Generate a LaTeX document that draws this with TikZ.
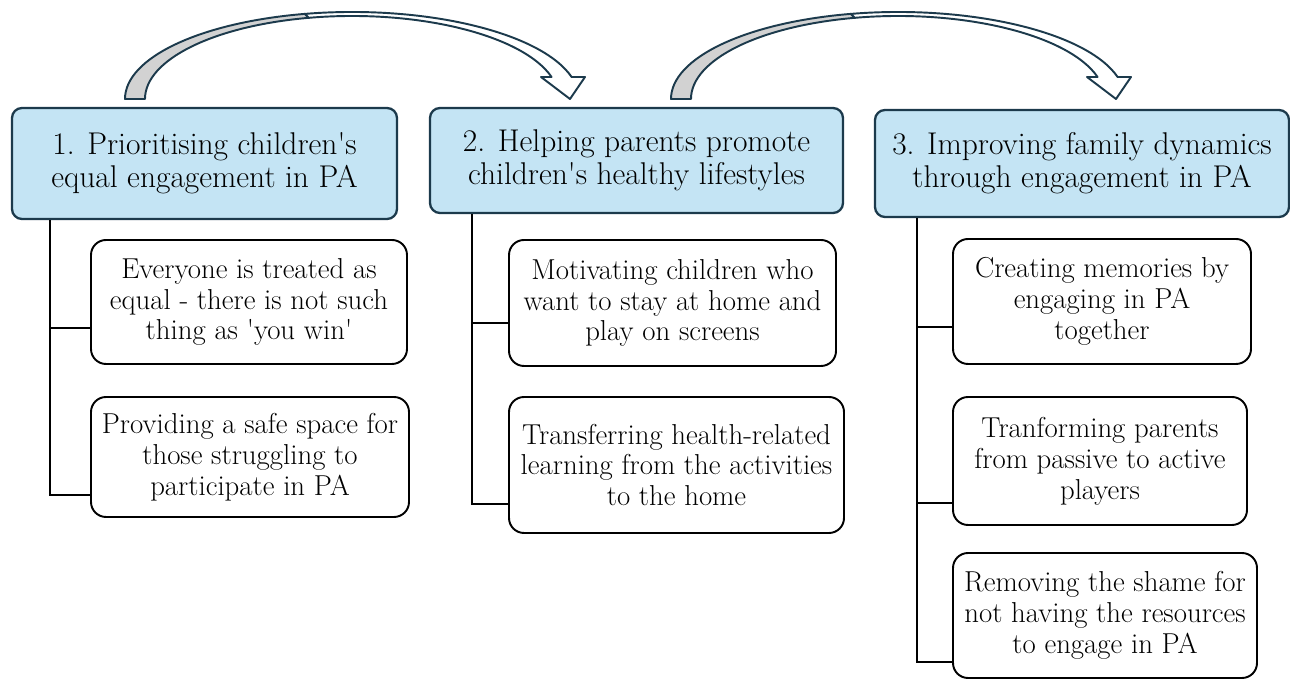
\documentclass[tikz,border=0pt]{standalone}
\usepackage{xcolor}
\usepackage{tikz}

\definecolor{headblue}{HTML}{C4E4F4}
\definecolor{headline}{HTML}{1C3A4C}
\definecolor{backgray}{HTML}{D2D2D2}

\begin{document}
\begin{tikzpicture}[
    head/.style={draw=headline, fill=headblue, line width=1.3pt, rounded corners=0.2cm,
        align=center, inner sep=0pt, font=\fontsize{17.9}{18.8}\selectfont},
    item/.style={draw=black, fill=white, line width=1.1pt, rounded corners=0.3cm,
        align=center, inner sep=0pt, font=\fontsize{16.4}{17.6}\selectfont},
    link/.style={line width=1.1pt},
    band/.style={draw=headline, line width=1.1pt, line join=round}
]
    \useasboundingbox (0,0) rectangle (25.8,-13.58);

    % -----------------------------------------------------------------
    % 1. Curved arrows over the three columns
    % -----------------------------------------------------------------
    \foreach \sx in {0, 10.92} {
        \begin{scope}[shift={(7.04+\sx,-1.98)}]
            % back face (grey) on the rising side
            \filldraw[band, fill=backgray] (180:4.54 and 1.74)
                arc[start angle=180, end angle=102, x radius=4.54, y radius=1.74]
                -- (102:4.14 and 1.66)
                arc[start angle=102, end angle=180, x radius=4.14, y radius=1.66] -- cycle;
            % front face with the head
            \filldraw[band, fill=white] (102:4.54 and 1.74)
                arc[start angle=102, end angle=14.65, x radius=4.54, y radius=1.74]
                -- (4.66,0.44) -- (4.36,0) -- (3.78,0.44) -- (15.37:4.14 and 1.66)
                arc[start angle=15.37, end angle=102, x radius=4.14, y radius=1.66] -- cycle;
        \end{scope}
    }

    % -----------------------------------------------------------------
    % 2. Theme headers
    % -----------------------------------------------------------------
    \node[head, minimum width=7.7cm, minimum height=2.22cm] (h1) at (4.09,-3.27)
        {1. Prioritising children\textquotesingle s\\equal engagement in PA};
    \node[head, minimum width=8.26cm, minimum height=2.1cm] (h2) at (12.73,-3.21)
        {2. Helping parents promote\\children\textquotesingle s healthy lifestyles};
    \node[head, minimum width=8.28cm, minimum height=2.14cm] (h3) at (21.64,-3.27)
        {3. Improving family dynamics\\through engagement in PA};

    % -----------------------------------------------------------------
    % 3. Sub-themes
    % -----------------------------------------------------------------
    \node[item, minimum width=6.32cm, minimum height=2.48cm] (s1a) at (4.98,-6.04)
        {Everyone is treated as\\equal - there is not such\\thing as \textquotesingle you win\textquotesingle};
    \node[item, minimum width=6.36cm, minimum height=2.4cm] (s1b) at (5.0,-9.14)
        {Providing a safe space for\\those struggling to\\participate in PA};

    \node[item, minimum width=6.54cm, minimum height=2.52cm] (s2a) at (13.45,-6.06)
        {Motivating children who\\want to stay at home and\\play on screens};
    \node[item, minimum width=6.7cm, minimum height=2.72cm] (s2b) at (13.53,-9.3)
        {Transferring health-related\\learning from the activities\\to the home};

    \node[item, minimum width=5.96cm, minimum height=2.5cm] (s3a) at (22.04,-6.03)
        {Creating memories by\\engaging in PA\\together};
    \node[item, minimum width=5.88cm, minimum height=2.56cm] (s3b) at (22.0,-9.22)
        {Tranforming parents\\from passive to active\\players};
    \node[item, minimum width=6.08cm, minimum height=2.5cm] (s3c) at (22.1,-12.31)
        {Removing the shame for\\not having the resources\\to engage in PA};

    % -----------------------------------------------------------------
    % 4. Elbow connectors from each header down to its sub-themes
    % -----------------------------------------------------------------
    \coordinate (t1) at (1.0,0);
    \coordinate (t2) at (9.44,0);
    \coordinate (t3) at (18.34,0);

    \foreach \c/\s/\d in {1/s1a/0.52, 1/s1b/0.76, 2/s2a/0.40, 2/s2b/0.78,
                          3/s3a/0.51, 3/s3b/0.84, 3/s3c/0.93} {
        \draw[link] (h\c.south -| t\c) |- ([yshift=-\d cm]\s.west);
    }

\end{tikzpicture}
\end{document}
